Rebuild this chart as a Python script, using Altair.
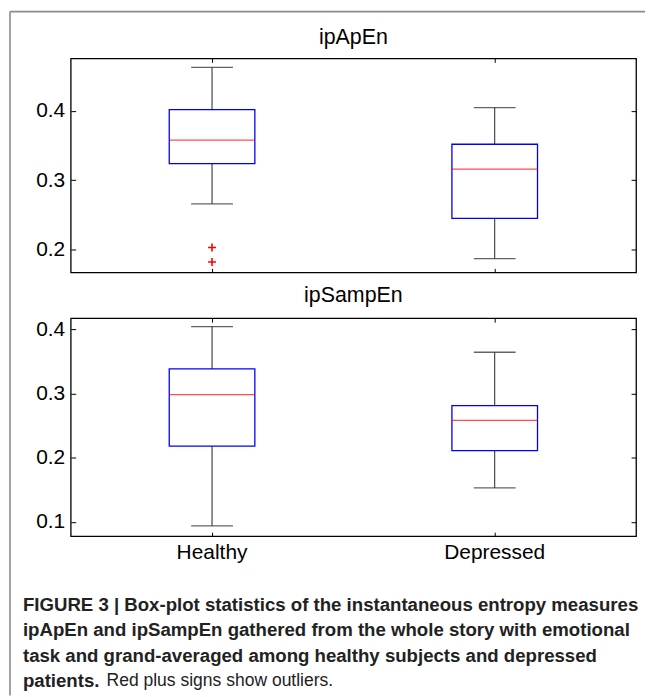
import altair as alt
import pandas as pd

groups = ["Healthy", "Depressed"]

# ipApEn box statistics
ap_lo = [0.266, 0.187]
ap_q1 = [0.324, 0.245]
ap_med = [0.358, 0.316]
ap_q3 = [0.402, 0.352]
ap_hi = [0.463, 0.405]
ap_out_group = ["Healthy", "Healthy"]
ap_out_val = [0.203, 0.182]
ap_domain = [0.167, 0.476]
ap_ticks = [0.2, 0.3, 0.4]

# ipSampEn box statistics
se_lo = [0.094, 0.153]
se_q1 = [0.218, 0.211]
se_med = [0.298, 0.258]
se_q3 = [0.338, 0.281]
se_hi = [0.404, 0.364]
se_domain = [0.078, 0.417]
se_ticks = [0.1, 0.2, 0.3, 0.4]

panel_titles = ["ipApEn", "ipSampEn"]

caption_bold = [
    "FIGURE 3 | Box-plot statistics of the instantaneous entropy measures",
    "ipApEn and ipSampEn gathered from the whole story with emotional",
    "task and grand-averaged among healthy subjects and depressed",
    "patients.",
]
caption_regular = "Red plus signs show outliers."

FONT = "Liberation Sans"
W = 568
one = pd.DataFrame({"k": [0]})


def title_mark(text, yy):
    return alt.Chart(one).mark_text(
        text=text, align="center", baseline="middle", font=FONT,
        fontSize=21.5, color="black").encode(
        x=alt.value(W / 2), y=alt.value(yy))


def panel(title, title_y, lo, q1, med, q3, hi, domain, ticks, height,
          show_labels, out_group=None, out_val=None, extra=None):
    df = pd.DataFrame({"group": groups, "lo": lo, "q1": q1, "med": med,
                       "q3": q3, "hi": hi})
    xs = alt.Scale(domain=groups, paddingInner=0, paddingOuter=0)
    ys = alt.Scale(domain=domain, nice=False, zero=False)
    base = alt.Chart(df)

    x_none = alt.X("group:N", scale=xs, sort=groups, axis=None)

    whisk_lo = base.mark_rule(color="#222222", strokeWidth=1).encode(
        x=x_none, y=alt.Y("lo:Q", scale=ys, axis=None), y2="q1:Q")
    whisk_hi = base.mark_rule(color="#222222", strokeWidth=1).encode(
        x=x_none, y=alt.Y("q3:Q", scale=ys, axis=None), y2="hi:Q")
    box = base.mark_bar(size=86, fill="white", stroke="#0000ff",
                        strokeWidth=1.3).encode(
        x=alt.X("group:N", scale=xs, sort=groups,
                axis=alt.Axis(orient="bottom", title=None, labels=show_labels,
                              labelAngle=0, domain=False, tickSize=4,
                              offset=-4, tickColor="black", labelPadding=5,
                              labelFont=FONT, labelFontSize=21,
                              labelColor="black", grid=False)),
        y=alt.Y("q1:Q", scale=ys,
                axis=alt.Axis(orient="left", title=None, values=ticks,
                              format=".1f", domain=False, tickSize=5,
                              offset=-5, tickColor="black", labelPadding=6,
                              labelFont=FONT, labelFontSize=21,
                              labelColor="black", grid=False)),
        y2="q3:Q")
    median = base.mark_tick(size=86, thickness=1.3, color="#ff0000").encode(
        x=alt.X("group:N", scale=xs, sort=groups,
                axis=alt.Axis(orient="top", title=None, labels=False,
                              domain=False, tickSize=4, offset=-4,
                              tickColor="black", grid=False)),
        y=alt.Y("med:Q", scale=ys,
                axis=alt.Axis(orient="right", title=None, values=ticks,
                              labels=False, domain=False, tickSize=5,
                              offset=-5, tickColor="black", grid=False)))
    cap_lo = base.mark_tick(size=42, thickness=1.3, color="#222222").encode(
        x=x_none, y=alt.Y("lo:Q", scale=ys, axis=None))
    cap_hi = base.mark_tick(size=42, thickness=1.3, color="#222222").encode(
        x=x_none, y=alt.Y("hi:Q", scale=ys, axis=None))
    layers = [whisk_lo, whisk_hi, box, median, cap_lo, cap_hi,
              title_mark(title, title_y)]
    if out_group is not None:
        odf = pd.DataFrame({"group": out_group, "val": out_val})
        outl = alt.Chart(odf).mark_point(
            shape="M-1,0H1M0,-1V1", size=64, filled=False, stroke="#ff0000",
            strokeWidth=1.6, opacity=1).encode(
            x=x_none, y=alt.Y("val:Q", scale=ys, axis=None))
        layers.append(outl)
    if extra:
        layers.extend(extra)
    return alt.layer(*layers).resolve_axis(
        x="independent", y="independent").properties(width=W, height=height)


frame_left = alt.Chart(one).mark_rule(color="#8a8a8a", strokeWidth=1.6).encode(
    x=alt.value(-61), y=alt.value(-47), y2=alt.value(640))
frame_top = alt.Chart(one).mark_rule(color="#8a8a8a", strokeWidth=1.6).encode(
    x=alt.value(-61), x2=alt.value(577), y=alt.value(-47))

cap_layers = []
cap_y = [288, 313, 339, 365]
for line, yy in zip(caption_bold, cap_y):
    cap_layers.append(alt.Chart(one).mark_text(
        text=line, align="left", baseline="middle", font=FONT, fontSize=18.7,
        fontWeight="bold", color="#222222").encode(
        x=alt.value(-48), y=alt.value(yy)))
cap_layers.append(alt.Chart(one).mark_text(
    text=caption_regular, align="left", baseline="middle", font=FONT,
    fontSize=17.6, color="#222222").encode(
    x=alt.value(-48 + 84), y=alt.value(cap_y[3])))

top = panel(panel_titles[0], -20, ap_lo, ap_q1, ap_med, ap_q3, ap_hi,
            ap_domain, ap_ticks, 215, False, ap_out_group, ap_out_val,
            extra=[frame_left, frame_top])
bottom = panel(panel_titles[1], -22, se_lo, se_q1, se_med, se_q3, se_hi,
               se_domain, se_ticks, 219, True, extra=cap_layers)

chart = alt.vconcat(top, bottom, spacing=46, bounds="flush").properties(
    padding=0, background="white"
).configure_view(stroke="black", strokeWidth=1.3)

chart.save("out.html", embed_options={"renderer": "svg", "actions": False})
